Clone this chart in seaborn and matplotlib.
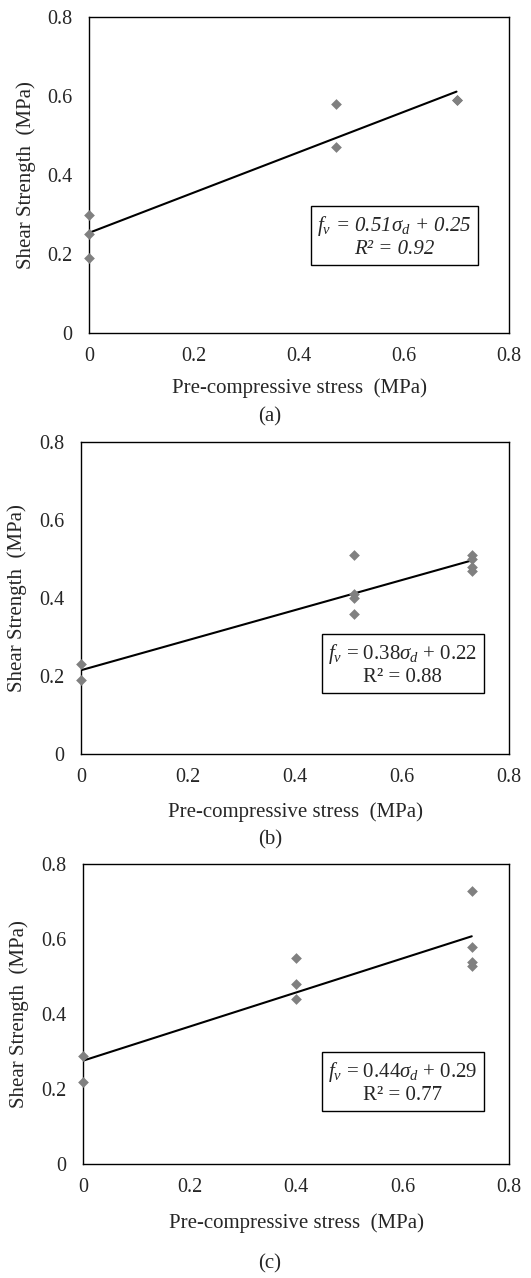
import matplotlib
matplotlib.use("Agg")
import matplotlib.pyplot as plt
import seaborn as sns
import pandas as pd

# ---- data ----
stress_a = [0, 0, 0, 0.47, 0.47, 0.70, 0.70]
strength_a = [0.30, 0.25, 0.19, 0.58, 0.47, 0.59, 0.59]

stress_b = [0, 0, 0.51, 0.51, 0.51, 0.51, 0.73, 0.73, 0.73, 0.73]
strength_b = [0.23, 0.19, 0.51, 0.41, 0.40, 0.36, 0.51, 0.50, 0.48, 0.47]

stress_c = [0, 0, 0.40, 0.40, 0.40, 0.73, 0.73, 0.73, 0.73]
strength_c = [0.29, 0.22, 0.55, 0.48, 0.44, 0.73, 0.58, 0.54, 0.53]

eq_a = r"$\mathsf{f_v}$ = 0.51$\mathsf{\sigma_d}$ + 0.25" + "\nR² = 0.92"
eq_b = r"$f_v$ = 0.38$\sigma_d$ + 0.22" + "\nR² = 0.88"
eq_c = r"$f_v$ = 0.44$\sigma_d$ + 0.29" + "\nR² = 0.77"

tick_vals = [0, 0.2, 0.4, 0.6, 0.8]
tick_labels = ["0", "0.2", "0.4", "0.6", "0.8"]
panel_labels = ["(a)", "(b)", "(c)"]
xlabel = "Pre-compressive stress  (MPa)"
ylabel = "Shear Strength  (MPa)"

# ---- style ----
sns.set_style("white")
plt.rcParams["font.family"] = ["Liberation Serif", "DejaVu Serif"]
plt.rcParams["mathtext.fontset"] = "custom"
plt.rcParams["mathtext.rm"] = "Liberation Serif"
plt.rcParams["mathtext.it"] = "Liberation Serif:italic"
plt.rcParams["mathtext.sf"] = "Liberation Serif:italic"
plt.rcParams["mathtext.bf"] = "Liberation Serif:bold"

W, H = 531, 1278
fig = plt.figure(figsize=(W / 100, H / 100), dpi=100)

# axes boxes in pixel coords: left, top, right, bottom
boxes = [(89, 17, 509, 333), (81, 441.7, 509, 754.3), (83.3, 864.3, 509, 1164.3)]
eq_pos = [(0.727, 0.305), (0.752, 0.287), (0.751, 0.273)]
xlabel_y = [-0.142, -0.152, -0.163]
panel_y = [417, 840, 1264]

datasets = [
    (stress_a, strength_a, eq_a, True),
    (stress_b, strength_b, eq_b, False),
    (stress_c, strength_c, eq_c, False),
]

for i, ((l, t, r, b), (xs, ys, eq, ital)) in enumerate(zip(boxes, datasets)):
    ax = fig.add_axes([l / W, (H - b) / H, (r - l) / W, (b - t) / H])
    df = pd.DataFrame({"x": xs, "y": ys})
    sns.regplot(data=df, x="x", y="y", ax=ax, ci=None, truncate=True,
                marker="D",
                scatter_kws={"s": 30, "color": "#808080", "linewidths": 0,
                             "alpha": 1, "clip_on": False, "zorder": 5},
                line_kws={"color": "black", "lw": 1.5, "zorder": 4})
    ax.set_xlim(0, 0.8)
    ax.set_ylim(0, 0.8)
    ax.set_xticks(tick_vals)
    ax.set_xticklabels(tick_labels)
    ax.set_yticks(tick_vals)
    ax.set_yticklabels(tick_labels)
    ax.tick_params(direction="in", length=4, width=1, labelsize=14.5,
                   color="#555555")
    ax.tick_params(axis="x", pad=10)
    ax.tick_params(axis="y", pad=12)
    for sp in ax.spines.values():
        sp.set_visible(True)
        sp.set_color("black")
        sp.set_linewidth(1.0)
    ax.set_xlabel(xlabel, fontsize=15)
    ax.set_ylabel(ylabel, fontsize=15)
    ax.xaxis.set_label_coords(0.5, xlabel_y[i])
    ax.yaxis.set_label_coords(-0.127, 0.5)
    ex, ey = eq_pos[i]
    ax.text(ex, ey, eq, transform=ax.transAxes, ha="center", va="center",
            multialignment="center", fontsize=15,
            fontstyle="italic" if ital else "normal", linespacing=1.1,
            bbox=dict(boxstyle="square,pad=0.3", fc="white", ec="black", lw=1),
            zorder=6)
    fig.text(270 / W, (H - panel_y[i]) / H, panel_labels[i], ha="center",
             va="center", fontsize=15)

fig.savefig("out.png", dpi=100)
